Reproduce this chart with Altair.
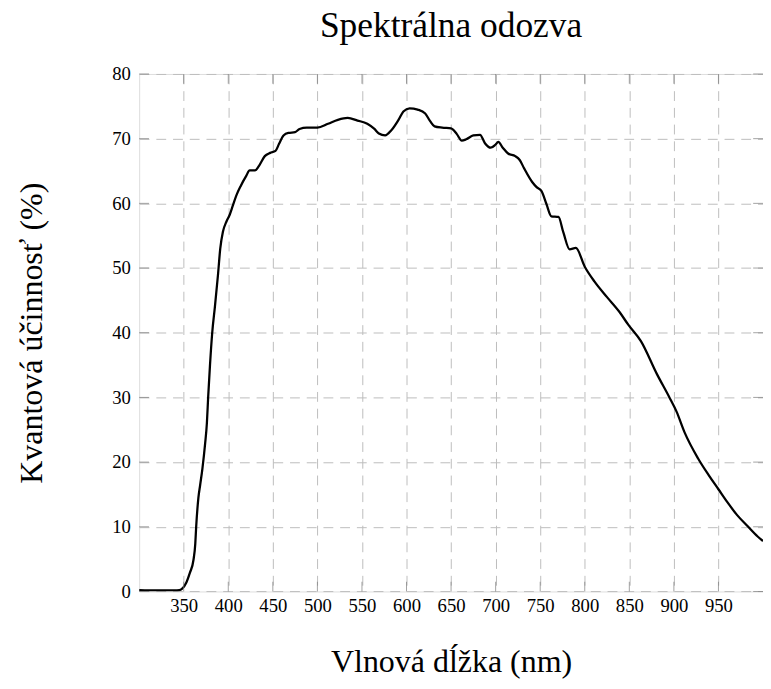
import altair as alt
import pandas as pd

# Spectral response curve
wavelength = [300, 320, 340, 345, 348, 353, 357, 361, 363, 364, 366.5, 368.5, 371, 374, 376,
              377.5, 379.5, 382, 385, 388.5, 391, 394, 398, 401.5, 405, 409, 414, 420, 424,
              430, 434.5, 441, 447, 453, 457, 462, 467.5, 475, 480, 488, 500, 512, 523, 534,
              545, 556, 564, 569, 576, 583, 591, 596.5, 603.5, 612.5, 621, 626.5, 631.5, 640,
              650, 656.5, 662, 667, 675, 682.5, 688, 694.5, 700, 703, 708, 714, 722, 727, 732,
              741, 746, 751.5, 757, 762.5, 770.5, 776, 783, 790, 800, 811, 825, 839, 849, 863,
              881, 895, 903, 912, 927, 940, 950, 960, 971, 982, 994, 1000]
efficiency = [0.2, 0.15, 0.15, 0.2, 0.4, 1.4, 2.9, 4.9, 7.4, 10.0, 14.5, 16.5, 19.0, 22.8, 26.0,
              30.2, 35.0, 40.0, 44.0, 49.0, 53.0, 55.6, 57.2, 58.2, 59.6, 61.2, 62.7, 64.2, 65.1,
              65.1, 65.8, 67.3, 67.8, 68.1, 69.2, 70.5, 70.9, 71.0, 71.5, 71.7, 71.7, 72.3, 72.9, 73.2,
              72.8, 72.3, 71.5, 70.8, 70.5, 71.3, 72.9, 74.2, 74.7, 74.5, 73.9, 72.7, 71.9, 71.7,
              71.6, 70.7, 69.7, 69.9, 70.5, 70.6, 69.3, 68.6, 69.1, 69.5, 68.6, 67.7, 67.3, 66.7, 65.4,
              63.3, 62.5, 61.9, 59.9, 58.0, 57.9, 55.5, 52.9, 53.1, 50.2, 47.9, 45.5, 43.2, 41.2, 38.7,
              33.6, 30.0, 27.8, 24.6, 20.6, 17.8, 15.8, 13.8, 11.8, 10.2, 8.5, 7.8]

x_tick_values = [350, 400, 450, 500, 550, 600, 650, 700, 750, 800, 850, 900, 950]
y_tick_values = [0, 10, 20, 30, 40, 50, 60, 70, 80]
x_domain = [300, 1000]
y_domain = [0, 80]

FONT = "Liberation Serif"
W = 634.6
H = 526.4

df = pd.DataFrame({"nm": wavelength, "qe": efficiency})
xt = pd.DataFrame({"nm": x_tick_values, "lo": y_domain[0], "hi": y_domain[1]})
yt = pd.DataFrame({"qe": y_tick_values, "lo": x_domain[0], "hi": x_domain[1]})

xscale = alt.Scale(domain=x_domain, nice=False, zero=False)
yscale = alt.Scale(domain=y_domain, nice=False, zero=False)

grid_kw = dict(grid=True, gridDash=[10, 7], gridColor="#bdbdbd", gridWidth=1,
               ticks=False, tickSize=0, domain=False, labelFont=FONT, labelFontSize=19,
               labelColor="black", labelOverlap=False, titleFont=FONT, titleFontSize=32.5,
               titleFontWeight="normal", titleColor="black", titleBaseline="alphabetic")

xaxis = alt.Axis(values=x_tick_values, title="Vlnová dĺžka (nm)", labelPadding=5,
                 labelFlush=False, titleY=81.6, **grid_kw)
yaxis = alt.Axis(values=y_tick_values, title="Kvantová účinnosť (%)", labelPadding=9,
                 titleX=-99.7, titleY=H / 2, titleAngle=-90, titleAlign="center", **grid_kw)

X = alt.X("nm:Q", scale=xscale, axis=xaxis)
Y = alt.Y("qe:Q", scale=yscale, axis=yaxis)

line = alt.Chart(df).mark_line(color="black", strokeWidth=2.3, clip=True,
                               interpolate="monotone").encode(x=X, y=Y)

tick_color = "#7a7a7a"
tick_bottom = alt.Chart(xt).mark_tick(orient="vertical", size=10, thickness=1,
                                       color=tick_color, yOffset=-5).encode(
    x=X, y=alt.Y("lo:Q", scale=yscale, axis=yaxis))
tick_top = alt.Chart(xt).mark_tick(orient="vertical", size=10, thickness=1,
                                    color=tick_color, yOffset=5).encode(
    x=X, y=alt.Y("hi:Q", scale=yscale, axis=yaxis))
tick_left = alt.Chart(yt).mark_tick(orient="horizontal", size=10, thickness=1,
                                     color=tick_color, xOffset=5).encode(
    y=Y, x=alt.X("lo:Q", scale=xscale, axis=xaxis))
tick_right = alt.Chart(yt).mark_tick(orient="horizontal", size=10, thickness=1,
                                      color=tick_color, xOffset=-5).encode(
    y=Y, x=alt.X("hi:Q", scale=xscale, axis=xaxis))

chart = alt.layer(line, tick_bottom, tick_top, tick_left, tick_right).properties(
    width=W, height=H,
    autosize=alt.AutoSizeParams(type="none"),
    padding={"left": 133.4, "top": 61.3, "right": 0, "bottom": 88},
    title=alt.TitleParams("Spektrálna odozva", font=FONT, fontSize=36, fontWeight="normal",
                          color="black", frame="group", anchor="middle",
                          baseline="alphabetic", offset=-7.6),
).configure_view(stroke="black", strokeWidth=1.2).configure(background="white")

chart.save("out.html", embed_options={"renderer": "svg", "actions": False})
